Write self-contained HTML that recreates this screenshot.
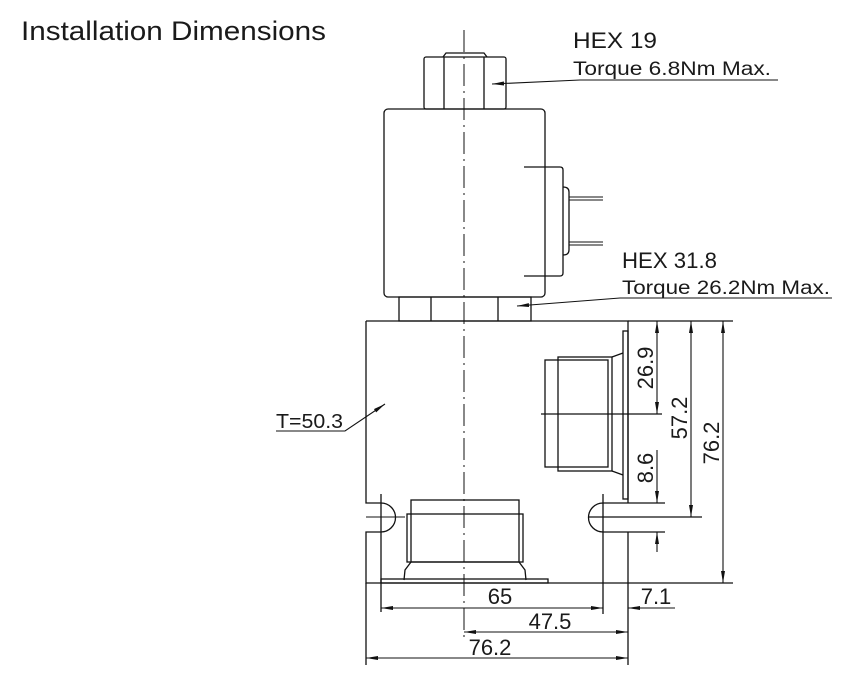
<!DOCTYPE html>
<html><head><meta charset="utf-8"><style>
html,body{margin:0;padding:0;background:#fff;}
svg{display:block;}
text{font-family:"Liberation Sans",sans-serif;fill:#1a1a1a;}
</style></head><body>
<svg width="867" height="687" viewBox="0 0 867 687" xmlns="http://www.w3.org/2000/svg">
<defs>
<marker id="a" viewBox="0 0 12 4" refX="12" refY="2" markerWidth="12" markerHeight="4" orient="auto-start-reverse" markerUnits="userSpaceOnUse"><path d="M0,0 L12,2 L0,4z" fill="#111"/></marker>
</defs>
<text x="21" y="40" font-size="27" textLength="305" lengthAdjust="spacingAndGlyphs">Installation Dimensions</text>
<g stroke="#111" stroke-width="1.3" fill="none">
<line x1="464" y1="30" x2="464" y2="640" stroke-dasharray="22,5,2,5" stroke-width="1"/>
<rect x="424" y="57" width="82" height="52" rx="2"/>
<line x1="444" y1="57" x2="444" y2="109"/><line x1="484" y1="57" x2="484" y2="109"/>
<path d="M443,57 L446,53 L484,53 L487,57"/>
<rect x="384" y="109" width="161" height="188" rx="4"/>
<path d="M524,167 H560 Q563,167 563,170 V273 Q563,276 560,276 H524"/>
<path d="M563,187 Q569,187 569,192 V250 Q569,255 563,255"/>
<path d="M569,197 H603 M569,200 H603 M569,245 H603 M569,242 H603" stroke-width="1"/>
<path d="M399,297 H531 V321 H399 Z"/>
<line x1="431" y1="297" x2="431" y2="321"/><line x1="498" y1="297" x2="498" y2="321"/>
<path d="M366,321 H628 V503 M628,532 V583 H366 V532 H381 M381,503 H366 V321"/>
<path d="M381,503 A14.5,14.5 0 0 1 381,532"/>
<path d="M603,503 A14.5,14.5 0 0 0 603,532"/>
<line x1="381" y1="494" x2="381" y2="612"/>
<line x1="603" y1="494" x2="603" y2="614"/>
<line x1="366" y1="517" x2="405" y2="517" stroke-width="1"/>
<line x1="603" y1="503" x2="665" y2="503"/>
<line x1="603" y1="532" x2="665" y2="532"/>
<line x1="589" y1="517" x2="702" y2="517"/>
<rect x="623" y="331" width="5" height="168"/>
<rect x="545" y="360" width="63" height="107"/>
<rect x="558" y="357" width="54" height="114"/>
<path d="M612,357 L623,353 M612,471 L623,475"/>
<line x1="541" y1="414" x2="662" y2="414"/>
<rect x="411" y="500" width="108" height="62"/>
<rect x="407" y="514" width="116" height="48"/>
<path d="M411,562 L405,570 L404,580 M519,562 L525,570 L526,580"/>
<rect x="381" y="579" width="167" height="4"/>
<line x1="628" y1="321" x2="733" y2="321"/>
<line x1="628" y1="583" x2="733" y2="583"/>
<line x1="628" y1="583" x2="628" y2="665"/>
<line x1="366" y1="583" x2="366" y2="665"/>
</g>
<g stroke="#111" stroke-width="1.1" fill="none">
<line x1="657" y1="321" x2="657" y2="414" marker-start="url(#a)" marker-end="url(#a)"/>
<line x1="657" y1="450" x2="657" y2="503" marker-end="url(#a)"/>
<line x1="657" y1="552" x2="657" y2="532" marker-end="url(#a)"/>
<line x1="691" y1="321" x2="691" y2="517" marker-start="url(#a)" marker-end="url(#a)"/>
<line x1="723" y1="321" x2="723" y2="583" marker-start="url(#a)" marker-end="url(#a)"/>
<line x1="381" y1="608" x2="603" y2="608" marker-start="url(#a)" marker-end="url(#a)"/>
<line x1="675" y1="608" x2="628" y2="608" marker-end="url(#a)"/>
<line x1="464" y1="632" x2="628" y2="632" marker-start="url(#a)" marker-end="url(#a)"/>
<line x1="366" y1="658" x2="628" y2="658" marker-start="url(#a)" marker-end="url(#a)"/>
<polyline points="778,80 580,80 492,84" marker-end="url(#a)"/>
<polyline points="832,298 620,298 517,306" marker-end="url(#a)"/>
<polyline points="276,431 345,431 385,404" marker-end="url(#a)"/>
</g>
<text x="573" y="48" font-size="22" textLength="84" lengthAdjust="spacingAndGlyphs">HEX 19</text>
<text x="573" y="75" font-size="19" textLength="198" lengthAdjust="spacingAndGlyphs">Torque 6.8Nm Max.</text>
<text x="622" y="268" font-size="22" textLength="95" lengthAdjust="spacingAndGlyphs">HEX 31.8</text>
<text x="622" y="294" font-size="19" textLength="208" lengthAdjust="spacingAndGlyphs">Torque 26.2Nm Max.</text>
<text x="276" y="428" font-size="20" textLength="67" lengthAdjust="spacingAndGlyphs">T=50.3</text>
<g font-size="22" text-anchor="middle">
<text transform="translate(653,368) rotate(-90)">26.9</text>
<text transform="translate(687,418) rotate(-90)">57.2</text>
<text transform="translate(719,443) rotate(-90)">76.2</text>
<text transform="translate(653,468) rotate(-90)">8.6</text>
<text x="500" y="604">65</text>
<text x="656" y="604">7.1</text>
<text x="550" y="629">47.5</text>
<text x="490" y="655">76.2</text>
</g>
</svg>
</body></html>
